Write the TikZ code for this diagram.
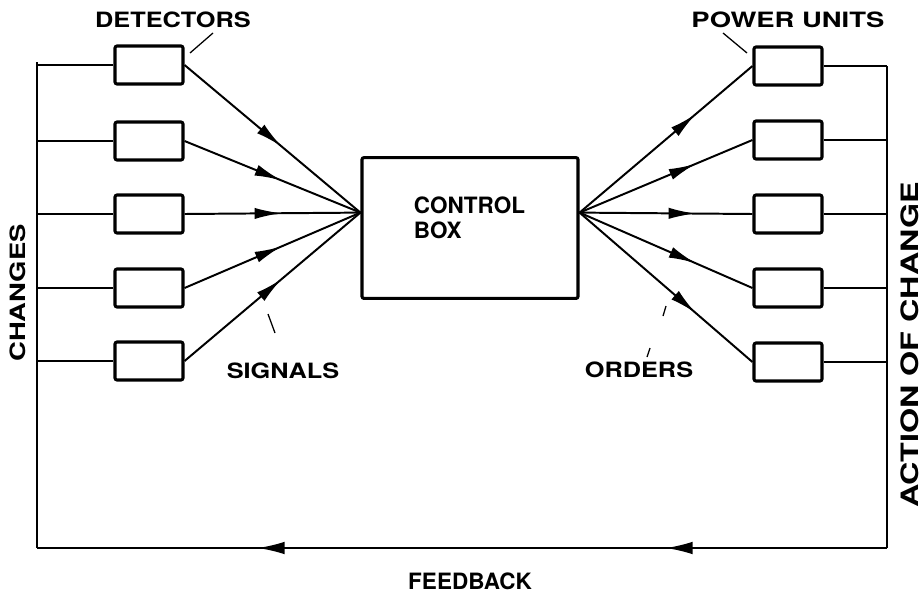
\documentclass[tikz,border=0pt]{standalone}
\usepackage{fontspec}
\setsansfont{TeX Gyre Heros}
\usetikzlibrary{arrows.meta,decorations.markings}

\def\bw{1.7}
\def\bh{0.95}
\def\lw{2.2}

\begin{document}
\begin{tikzpicture}[x=0.025cm,y=-0.025cm,
	unit/.style={rectangle,draw,line width=\lw pt,rounded corners=1.5pt,minimum width=\bw cm,minimum height=\bh cm,inner sep=0pt},
	bus/.style={line width=1.1pt},
	lead/.style={line width=0.9pt},
	lbl/.style={font=\sffamily\bfseries\fontsize{15}{15}\selectfont\addfontfeature{FakeStretch=1.2},inner sep=0pt},
	wlbl/.style={font=\sffamily\bfseries\fontsize{15}{15}\selectfont\addfontfeature{FakeStretch=1.3},inner sep=0pt},
	sig/.style={line width=1.4pt,decoration={markings,mark=at position 0.55 with {\arrow{Latex[length=19pt,width=8pt]}}},postaction={decorate}},
	ord/.style={line width=1.4pt,decoration={markings,mark=at position 0.67 with {\arrow{Latex[length=19pt,width=8pt]}}},postaction={decorate}},
	fb/.style={bus,decoration={markings,mark=at position 0.26 with {\arrow{Latex[length=19pt,width=9pt]}},mark=at position 0.74 with {\arrow{Latex[length=19pt,width=9pt]}}},postaction={decorate}}]
	\useasboundingbox (0,0) rectangle (924,592);
	% control box
	\node[rectangle,draw,line width=\lw pt,rounded corners=1.5pt,minimum width=5.4cm,minimum height=3.52cm] (cb) at (470,228) {};
	\node[anchor=west,align=left,font=\sffamily\bfseries\fontsize{16}{18}\selectfont] (cbt) at (409,218) {CONTROL\\BOX};
	% detectors
	\node[unit] (d1) at (149,65) {};
	\node[unit] (d2) at (149,141) {};
	\node[unit] (d3) at (149,214) {};
	\node[unit] (d4) at (149,288) {};
	\node[unit] (d5) at (149,361) {};
	% power units
	\node[unit] (p1) at (788,66) {};
	\node[unit] (p2) at (788,140) {};
	\node[unit] (p3) at (788,214) {};
	\node[unit] (p4) at (788,288) {};
	\node[unit] (p5) at (788,362) {};
	% loop corners
	\coordinate (lt) at (37,62);
	\coordinate (lb) at (37,548);
	\coordinate (rt) at (887,66);
	\coordinate (rb) at (887,548);
	\draw[bus] (lt) -- (lb);
	\draw[bus] (rt) -- (rb);
	\draw[fb] (rb) -- (lb);
	\foreach \n in {1,...,5}{
		\draw[bus] (d\n.west) -- (d\n.west -| lt);
		\draw[bus] (p\n.east) -- (p\n.east -| rt);
	}
	% signals and orders
	\draw[sig] (d1.east) -- (cb.172);
	\draw[sig] (d2.east) -- (cb.172);
	\draw[sig] (d3.east) -- (cb.172);
	\draw[sig] (d4.east) -- (cb.172);
	\draw[sig] (d5.east) -- (cb.172);
	\draw[ord] (cb.8) -- (p1.west);
	\draw[ord] (cb.8) -- (p2.west);
	\draw[ord] (cb.8) -- (p3.west);
	\draw[ord] (cb.8) -- (p4.west);
	\draw[ord] (cb.8) -- (p5.west);
	% labels
	\node[lbl] (det) at (173,20) {DETECTORS};
	\node[wlbl] (pow) at (788,20) {POWER UNITS};
	\node[lbl] (sgl) at (283,371) {SIGNALS};
	\node[lbl] (odr) at (639,370) {ORDERS};
	\node[wlbl,rotate=90] (chg) at (18,293) {CHANGES};
	\node[wlbl,rotate=90,font=\sffamily\bfseries\fontsize{17}{17}\selectfont\addfontfeature{FakeStretch=1.35}] (act) at (910,345) {ACTION OF CHANGE};
	\node[font=\sffamily\bfseries\fontsize{16}{16}\selectfont,inner sep=0pt] (fdb) at (470,581) {FEEDBACK};
	% leaders
	\coordinate (k1) at (213,33);
	\coordinate (k2) at (190,53);
	\coordinate (k3) at (723,33);
	\coordinate (k4) at (747,53);
	\coordinate (k5) at (268,314);
	\coordinate (k6) at (275,333);
	\coordinate (k7) at (666,306);
	\coordinate (k8) at (663,316);
	\coordinate (k9) at (650,348);
	\coordinate (k10) at (647,357);
	\draw[lead] (k1) -- (k2);
	\draw[lead] (k3) -- (k4);
	\draw[lead] (k5) -- (k6);
	\draw[lead] (k7) -- (k8);
	\draw[lead] (k9) -- (k10);
\end{tikzpicture}
\end{document}
